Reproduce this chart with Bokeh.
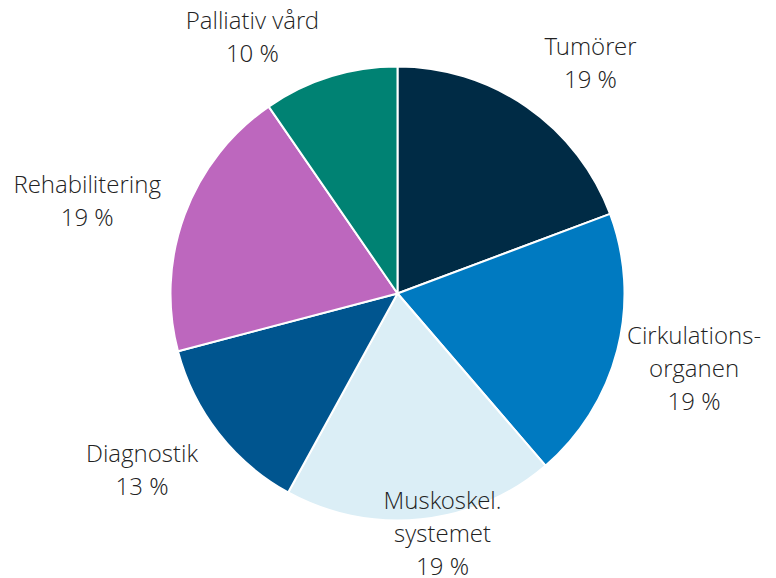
import math
from bokeh.plotting import figure
from bokeh.models import ColumnDataSource
from bokeh.core.properties import value
from bokeh.embed import file_html
from bokeh.resources import INLINE

# ---- data ----
categories = ["Tumörer", "Cirkulations-\norganen", "Muskoskel.\nsystemet",
              "Diagnostik", "Rehabilitering", "Palliativ vård"]
shares = [19.3, 19.4, 19.3, 12.9, 19.5, 9.6]
pct_labels = ["19 %", "19 %", "19 %", "13 %", "19 %", "10 %"]
colors = ["#002b45", "#007ac1", "#dbeef6", "#00558f", "#bd67be", "#008273"]

# ---- layout ----
W, H = 776, 578
CX, CY = 397, 293          # pie centre in figure pixels (from left/top)
R = 227
LABEL_R = 300
LINE_H = 33
# small nudges (px, y up) to fine-tune label placement
nudges = [(22, -15), (6, 1), (14, 59), (-19, 9), (-29, -11), (-56, -29)]

p = figure(width=W, height=H, output_backend="svg", toolbar_location=None,
           x_range=(-CX, W - CX), y_range=(-(H - CY), CY),
           min_border=0, outline_line_color=None)
p.axis.visible = False
p.grid.visible = False
p.background_fill_color = "white"
p.border_fill_color = "white"

total = sum(shares)
starts, ends, mids = [], [], []
acc = 0.0
for s in shares:
    a0 = acc / total * 2 * math.pi
    acc += s
    a1 = acc / total * 2 * math.pi
    # convert clockwise-from-top to bokeh (counter-clockwise from +x)
    starts.append(math.pi / 2 - a1)
    ends.append(math.pi / 2 - a0)
    mids.append((a0 + a1) / 2)

src = ColumnDataSource(dict(start=starts, end=ends, color=colors))
p.wedge(x=0, y=0, radius=R, start_angle="start", end_angle="end",
        fill_color="color", line_color="white", line_width=2, source=src)

tx, ty, tt = [], [], []
for cat, pct, m, (nx, ny) in zip(categories, pct_labels, mids, nudges):
    lines = cat.split("\n") + [pct]
    cx = LABEL_R * math.sin(m) + nx
    cy = LABEL_R * math.cos(m) + ny
    n = len(lines)
    for i, ln in enumerate(lines):
        tx.append(cx)
        ty.append(cy + (n - 1) / 2 * LINE_H - i * LINE_H)
        tt.append(ln)

tsrc = ColumnDataSource(dict(x=tx, y=ty, text=tt))
p.text(x="x", y="y", text="text", source=tsrc, text_align="center",
       text_baseline="middle", text_font=value("'Open Sans Light', 'Open Sans'"),
       text_font_size="24px", text_color="#222222")

open("out.html", "w").write(file_html(p, INLINE))
